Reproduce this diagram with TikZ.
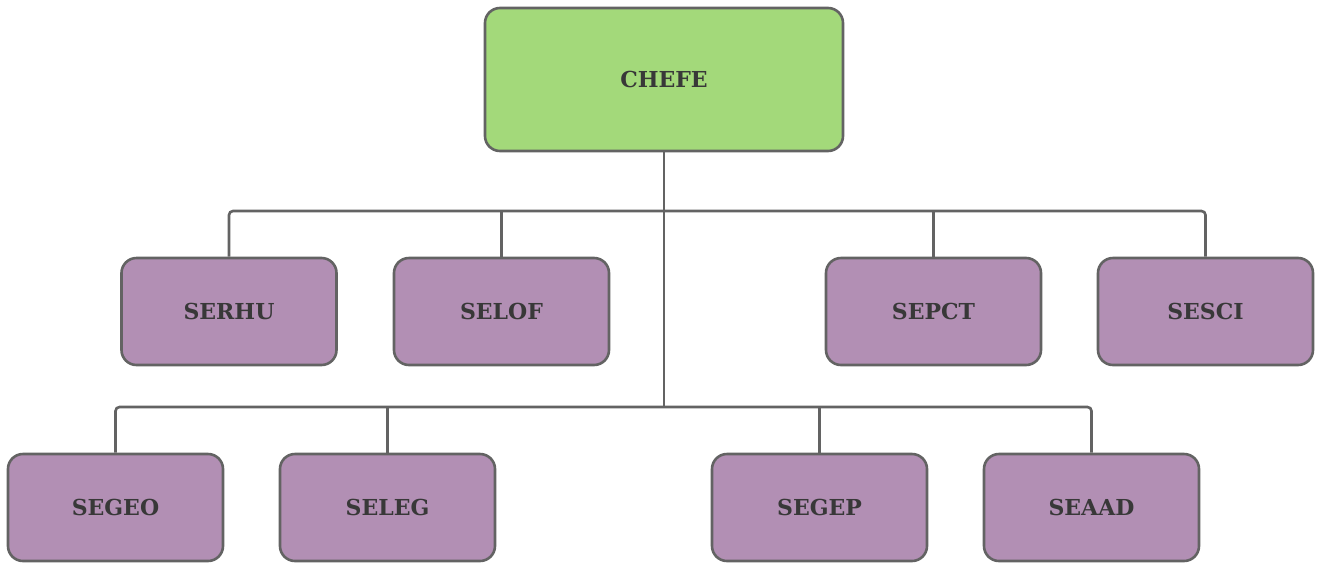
\documentclass[tikz,border=0pt]{standalone}
\usepackage{fontspec}
\setmainfont{DejaVu Serif}
\definecolor{chefegreen}{HTML}{A3D97A}
\definecolor{setorlilac}{HTML}{B28FB4}
\definecolor{linegray}{HTML}{636363}
\definecolor{textgray}{HTML}{383838}
\tikzset{
  unit/.style={draw=linegray,line width=2.6pt,rounded corners=15pt,
    minimum width=215pt,minimum height=107pt,inner sep=0pt,
    text=textgray,font=\fontsize{22}{26}\selectfont\bfseries},
  boss/.style={unit,fill=chefegreen,minimum width=358pt,minimum height=143pt},
  setor/.style={unit,fill=setorlilac},
  link/.style={draw=linegray,line width=2.6pt,rounded corners=4pt}
}
\begin{document}
\begin{tikzpicture}[x=1pt,y=-1pt]
        \useasboundingbox (0,0) rectangle (1320,563);
        % Chief
        \node[boss] (chefe) at (664,79.5) {CHEFE};
        % Upper row
        \node[setor] (serhu) at (229,311.5) {SERHU};
        \node[setor] (selof) at (501.5,311.5) {SELOF};
        \node[setor] (sepct) at (933.5,311.5) {SEPCT};
        \node[setor] (sesci) at (1205.5,311.5) {SESCI};
        % Lower row
        \node[setor] (segeo) at (115.5,507.5) {SEGEO};
        \node[setor] (seleg) at (387.5,507.5) {SELEG};
        \node[setor] (segep) at (819.5,507.5) {SEGEP};
        \node[setor] (seaad) at (1091.5,507.5) {SEAAD};
        % Buses
        \coordinate (bus1) at (664,211);
        \coordinate (bus2) at (664,407);
        \draw[link] (chefe.south) -- (bus2);
        \draw[link] (serhu.north) |- (bus1) -| (sesci.north);
        \draw[link] (segeo.north) |- (bus2) -| (seaad.north);
        \foreach \n/\b in {selof/bus1,sepct/bus1,seleg/bus2,segep/bus2}
          \draw[link] (\n.north) -- (\n.north |- \b);
\end{tikzpicture}
\end{document}
